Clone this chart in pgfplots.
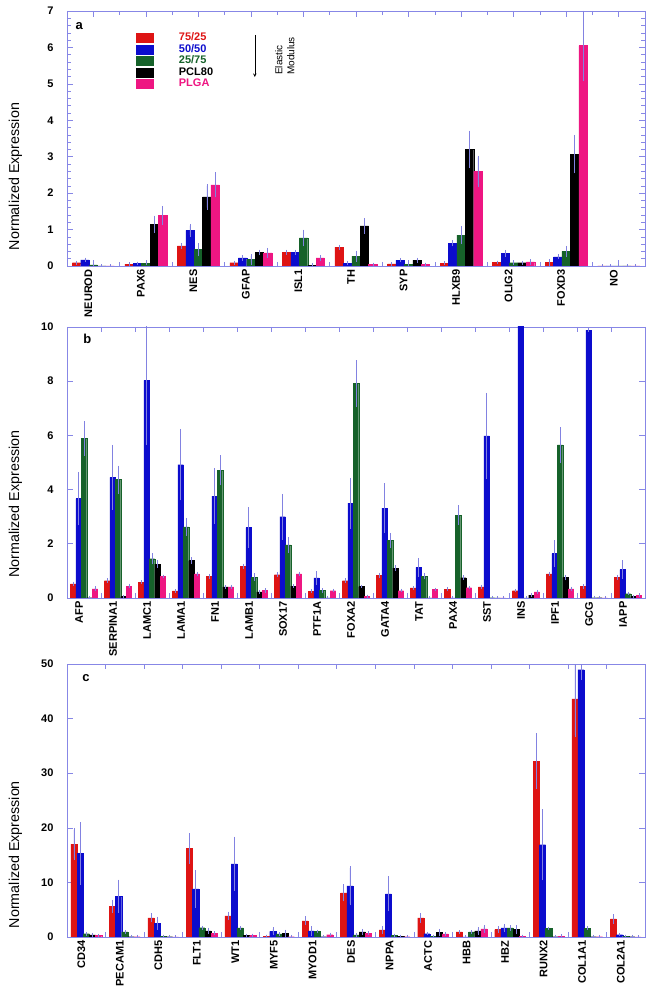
\documentclass[border=0pt]{standalone}
\usepackage{fontspec}
\setmainfont{Liberation Sans}
\usepackage{pgfplots}
\pgfplotsset{compat=1.18}
\usepackage{pgfplotstable}

\definecolor{cr}{RGB}{222,20,20}
\definecolor{cb}{RGB}{12,12,205}
\definecolor{cg}{RGB}{22,98,42}
\definecolor{ck}{RGB}{0,0,0}
\definecolor{cp}{RGB}{238,22,130}
\definecolor{framec}{RGB}{135,135,230}
\definecolor{errc}{RGB}{130,130,225}

\pgfplotstableread{
x r re b be g ge k ke p pe
0 0.09 0 0.17 0.01 0.03 0 0 0 0 0
1 0.05 0 0.07 0 0.08 0 1.14 0.19 1.39 0.21
2 0.55 0.03 0.98 0.13 0.45 0.12 1.90 0.30 2.23 0.30
3 0.09 0 0.22 0.02 0.18 0.09 0.37 0.03 0.36 0.09
4 0.38 0.02 0.38 0.02 0.77 0.18 0.02 0 0.22 0.02
5 0.52 0.02 0.08 0 0.27 0.10 1.10 0.16 0.04 0
6 0.06 0 0.16 0.01 0.05 0 0.16 0.02 0.04 0
7 0.08 0 0.63 0.04 0.85 0.20 3.20 0.47 2.60 0.38
8 0.10 0 0.34 0.05 0.09 0 0.09 0 0.11 0.02
9 0.10 0.04 0.25 0.02 0.40 0.10 3.07 0.48 6.05 0.91
10 0 0 0 0 0 0 0 0 0 0
}\tA

\pgfplotstableread{
x r re b be g ge k ke p pe
0 0.52 0.02 3.67 0.92 5.88 0.58 0.01 0 0.34 0.02
1 0.64 0.02 4.45 1.13 4.37 0.45 0.05 0 0.44 0.02
2 0.58 0 8.03 2.30 1.45 0.14 1.25 0.07 0.80 0
3 0.26 0 4.92 1.25 2.62 0.26 1.38 0.06 0.89 0.02
4 0.80 0.02 3.76 0.96 4.71 0.49 0.41 0 0.41 0.02
5 1.17 0.03 2.60 0.68 0.77 0.07 0.23 0 0.28 0.02
6 0.86 0.02 3.00 0.78 1.96 0.22 0.44 0 0.89 0.02
7 0.25 0 0.74 0.18 0.28 0.02 0 0 0.27 0
8 0.64 0.02 3.50 0.87 7.91 0.79 0.42 0 0.06 0
9 0.84 0.03 3.32 0.84 2.13 0.21 1.10 0.04 0.27 0
10 0.37 0 1.13 0.28 0.81 0.06 0 0 0.31 0
11 0.33 0 0 0 3.06 0.30 0.75 0.02 0.38 0
12 0.41 0.02 5.98 1.52 0.01 0 0 0 0 0
13 0.27 0 12 0 0 0 0.11 0 0.23 0
14 0.89 0.02 1.64 0.43 5.65 0.59 0.76 0.04 0.34 0
15 0.43 0.02 9.88 0 0.01 0 0.01 0 0 0
16 0.77 0.03 1.05 0.28 0.16 0 0.05 0 0.10 0
}\tB

\pgfplotstableread{
x r re b be g ge k ke p pe
0 17.0 2.6 15.3 5.4 0.6 0 0.37 0 0.25 0
1 5.6 0.9 7.47 2.7 0.92 0 0.06 0 0.06 0
2 3.5 0.5 2.5 0.9 0.1 0 0.06 0 0 0
3 16.2 2.5 8.8 3.1 1.7 0 1.1 0.3 0.73 0
4 3.86 0.44 13.4 4.65 1.65 0 0.25 0 0.3 0
5 0.12 0 1.04 0.43 0.55 0 0.73 0.31 0.06 0
6 2.94 0.49 1.1 0.5 0.98 0 0.06 0 0.43 0
7 8.08 1.22 9.36 3.24 0.37 0 0.92 0.24 0.73 0
8 1.29 0.36 7.9 2.87 0.3 0 0.12 0 0.06 0
9 3.5 0.6 0.61 0 0.12 0 0.8 0.36 0.55 0
10 0.92 0 0 0 0.92 0 1.1 0.37 1.47 0.43
11 1.35 0.25 1.65 0.43 1.65 0.19 1.35 0.49 0.12 0
12 32.2 4.8 16.9 6.2 1.53 0 0.06 0 0.18 0
13 43.6 6.6 48.96 1.5 1.6 0 0.06 0 0.06 0
14 3.3 0.5 0.43 0 0.12 0 0.06 0 0 0
}\tC

\pgfplotsset{
  panel/.style={
    scale only axis, width=578pt,
    xmin=-0.5, ymin=0,
    ybar=0pt, bar width=0.16,
    axis line style={framec, line width=0.8pt},
    tick style={framec, line width=0.6pt},
    tick align=inside,
    major tick length=6pt, minor tick length=4pt,
    /pgf/number format/assume math mode=true,
    x tick label style={font=\bfseries\fontsize{11}{13}\selectfont, xshift=-5pt, rotate=90, anchor=east},
    y tick label style={font=\bfseries\fontsize{11}{13}\selectfont, xshift=-10pt},
    legend image code/.code={\fill[##1] (0pt,-4.5pt) rectangle (17pt,4.5pt);},
  },
  ebar/.style={error bars/.cd, y dir=both, y explicit,
    error bar style={errc, line width=0.5pt},
    error mark options={errc, mark size=1.8pt, line width=0.5pt}},
}

\newcommand\fivebars[1]{%
  \addplot[fill=cr, draw=cr, line width=0.3pt, ebar] table[x=x, y=r, y error=re] {#1};
  \addplot[fill=cb, draw=cb, line width=0.3pt, ebar] table[x=x, y=b, y error=be] {#1};
  \addplot[fill=cg, draw=cg, line width=0.3pt, ebar] table[x=x, y=g, y error=ge] {#1};
  \addplot[fill=ck, draw=ck, line width=0.3pt, ebar] table[x=x, y=k, y error=ke] {#1};
  \addplot[fill=cp, draw=cp, line width=0.3pt, ebar] table[x=x, y=p, y error=pe] {#1};
}

\begin{document}
\begin{tikzpicture}[x=1pt,y=1pt]
\useasboundingbox (0,0) rectangle (654,993);

% Panel a
\begin{axis}[panel,
  at={(67pt,727pt)}, anchor=south west,
  height=255pt,
  xmax=10.5, ymax=7,
  xtick={0,...,10},
  xticklabels={NEUROD,PAX6,NES,GFAP,ISL1,TH,SYP,HLXB9,OLIG2,FOXD3,NO},
  minor xtick={-0.5,0.5,...,10.5},
  ytick={0,...,7}, minor y tick num=4,
  every axis y label/.style={at={(rel axis cs:-0.083,0.351)}, rotate=90, anchor=base, font=\fontsize{14.3}{16}\selectfont},
  ylabel={Normalized Expression},
  legend style={at={(0.114,0.925)}, anchor=north west, draw=none, fill=none,
    font=\bfseries\fontsize{11}{12}\selectfont, row sep=0.5pt, column sep=25pt,
    nodes={inner sep=0.5pt, text height=8pt, text depth=2pt}},
  legend cell align=left,
]
\fivebars{\tA}
\legend{\textcolor{cr}{75/25},\textcolor{cb}{50/50},\textcolor{cg}{25/75},\textcolor{ck}{PCL80},\textcolor{cp}{PLGA}}
\node[font=\bfseries\fontsize{13}{14}\selectfont] at (rel axis cs:0.021,0.941) {a};
\draw[-stealth, line width=0.6pt] (rel axis cs:0.325,0.906) -- (rel axis cs:0.325,0.741);
\node[rotate=90, anchor=west, align=left, inner sep=0pt, font=\fontsize{10}{12}\selectfont] at (rel axis cs:0.377,0.749) {Elastic\\Modulus};
\end{axis}

% Panel b
\begin{axis}[panel,
  at={(67pt,395pt)}, anchor=south west,
  height=271pt,
  xmax=16.5, ymax=10,
  xtick={0,...,16},
  xticklabels={AFP,SERPINA1,LAMC1,LAMA1,FN1,LAMB1,SOX17,PTF1A,FOXA2,GATA4,TAT,PAX4,SST,INS,IPF1,GCG,IAPP},
  major x tick style={draw=none},
  minor xtick={-0.5,0.5,...,16.5},
  minor tick length=5pt,
  ytick={0,2,...,10},
  every axis y label/.style={at={(rel axis cs:-0.083,0.347)}, rotate=90, anchor=base, font=\fontsize{14.3}{16}\selectfont},
  ylabel={Normalized Expression},
]
\fivebars{\tB}
\node[font=\bfseries\fontsize{13}{14}\selectfont] at (rel axis cs:0.035,0.956) {b};
\end{axis}

% Panel c
\begin{axis}[panel,
  at={(67pt,56pt)}, anchor=south west,
  height=273pt,
  xmax=14.5, ymax=50,
  xtick={0,...,14},
  xticklabels={CD34,PECAM1,CDH5,FLT1,WT1,MYF5,MYOD1,DES,NPPA,ACTC,HBB,HBZ,RUNX2,COL1A1,COL2A1},
  major x tick style={draw=none},
  minor xtick={-0.5,0.5,...,14.5},
  minor tick length=5pt,
  ytick={0,10,...,50},
  every axis y label/.style={at={(rel axis cs:-0.083,0.302)}, rotate=90, anchor=base, font=\fontsize{14.3}{16}\selectfont},
  ylabel={Normalized Expression},
]
\fivebars{\tC}
\node[font=\bfseries\fontsize{13}{14}\selectfont] at (rel axis cs:0.033,0.949) {c};
\end{axis}
\end{tikzpicture}
\end{document}
